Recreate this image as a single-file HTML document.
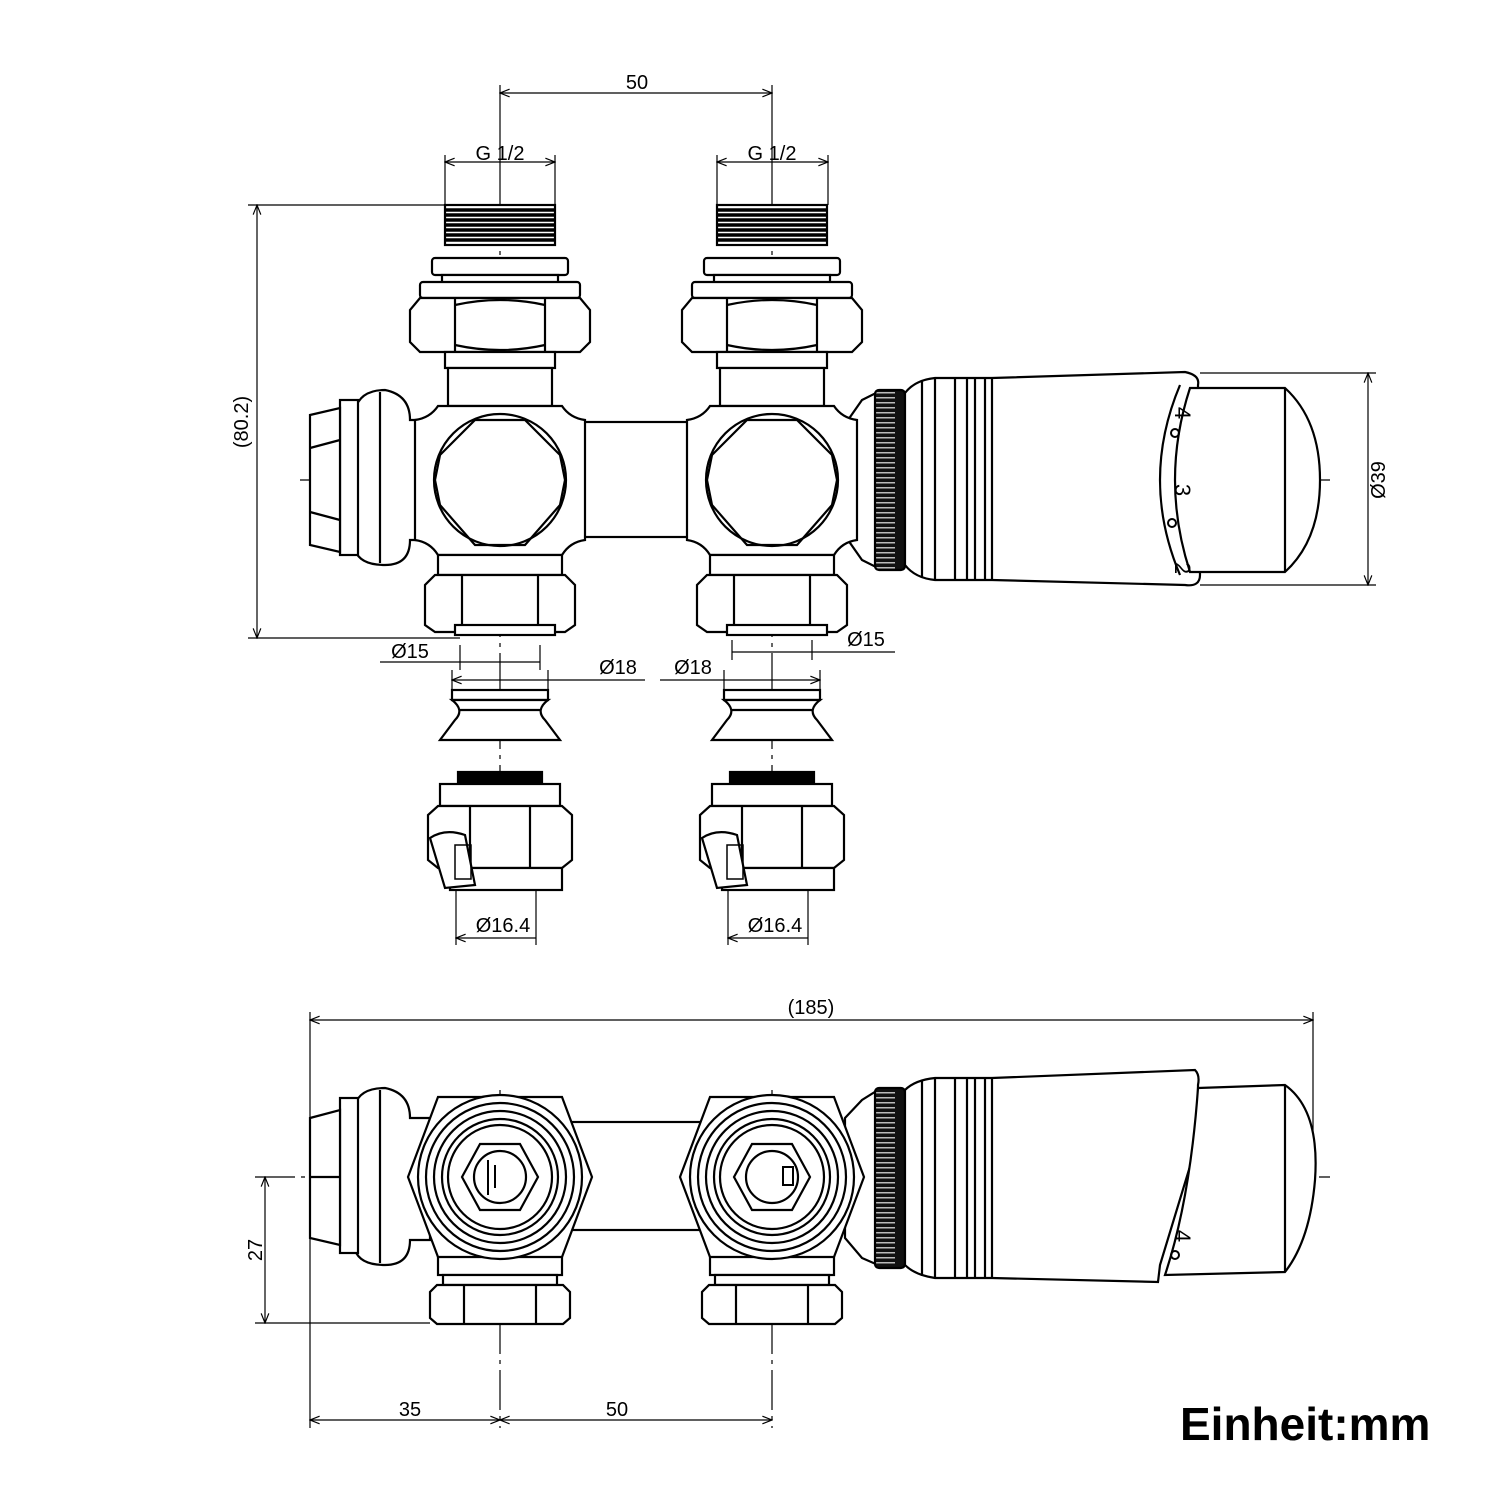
<!DOCTYPE html>
<html><head><meta charset="utf-8"><style>
html,body{margin:0;padding:0;background:#fff}
svg{display:block}
text{font-family:"Liberation Sans",sans-serif;fill:#000}
</style></head><body>
<svg width="1500" height="1500" viewBox="0 0 1500 1500" xmlns="http://www.w3.org/2000/svg">
<defs>
<pattern id="kn" width="30" height="5" patternUnits="userSpaceOnUse"><rect width="30" height="5" fill="#111"/><rect x="5" y="2" width="20" height="1.5" fill="#bbb"/></pattern>
<marker id="a" viewBox="0 0 10 10" refX="10" refY="5" markerWidth="10" markerHeight="8" orient="auto-start-reverse"><path d="M0,1 L10,5 L0,9" fill="none" stroke="#000" stroke-width="1.2"/></marker>
<g id="vtop" fill="#fff" stroke="#000" stroke-width="2.2">
  <rect x="-55" y="205" width="110" height="40"/>
  <g stroke-width="3.5"><line x1="-54" y1="210" x2="54" y2="210"/><line x1="-54" y1="215" x2="54" y2="215"/><line x1="-54" y1="220" x2="54" y2="220"/><line x1="-54" y1="225" x2="54" y2="225"/><line x1="-54" y1="230" x2="54" y2="230"/><line x1="-54" y1="235" x2="54" y2="235"/><line x1="-54" y1="240" x2="54" y2="240"/></g>
  <rect x="-68" y="258" width="136" height="17" rx="3"/>
  <rect x="-58" y="275" width="116" height="8"/>
  <rect x="-80" y="282" width="160" height="16" rx="3"/>
  <path d="M-80,298 L80,298 L90,310 L90,342 L80,352 L-80,352 L-90,342 L-90,310 Z"/>
  <line x1="-45" y1="298" x2="-45" y2="352"/><line x1="45" y1="298" x2="45" y2="352"/>
  <path d="M-45,305 Q0,295 45,305 M-45,345 Q0,355 45,345" fill="none"/>
  <rect x="-55" y="352" width="110" height="16"/>
  <rect x="-52" y="368" width="104" height="38"/>
  <path d="M-62,406 L62,406 Q70,418 85,420 L85,540 Q70,542 62,555 L-62,555 Q-70,542 -85,540 L-85,420 Q-70,418 -62,406 Z"/>
  <circle cx="0" cy="480" r="66"/>
  <path d="M-25,420 L25,420 L60,455 L65,480 L60,505 L25,545 L-25,545 L-60,505 L-65,480 L-60,455 Z" fill="none"/>
  <rect x="-62" y="555" width="124" height="20"/>
  <path d="M-65,575 L65,575 L75,585 L75,625 L65,632 L-65,632 L-75,625 L-75,585 Z"/>
  <line x1="-38" y1="575" x2="-38" y2="632"/><line x1="38" y1="575" x2="38" y2="632"/>
  <rect x="-45" y="625" width="100" height="10"/>
</g>
<g id="olive" fill="#fff" stroke="#000" stroke-width="2.2">
  <rect x="-48" y="690" width="96" height="10"/>
  <path d="M-48,700 Q-35,710 -45,720 L-60,740 L60,740 L45,720 Q35,710 48,700 Z"/>
  <line x1="-40" y1="710" x2="40" y2="710"/>
</g>
<g id="cnut" fill="#fff" stroke="#000" stroke-width="2.2">
  <rect x="-42" y="772" width="84" height="12" fill="#000"/>
  <rect x="-60" y="784" width="120" height="22"/>
  <path d="M-62,806 L62,806 L72,815 L72,860 L62,868 L-62,868 L-72,860 L-72,815 Z"/>
  <line x1="-30" y1="806" x2="-30" y2="868"/><line x1="30" y1="806" x2="30" y2="868"/>
  <rect x="-50" y="868" width="112" height="22"/>
  <path d="M-70,838 Q-55,828 -35,835 L-25,885 L-55,888 Z"/>
  <rect x="-45" y="845" width="16" height="34" fill="none" stroke-width="1.5"/>
</g>
<g id="vbot" fill="#fff" stroke="#000" stroke-width="2.2">
  <rect x="-62" y="1255" width="124" height="20"/>
  <rect x="-57" y="1275" width="114" height="10"/>
  <path d="M-63,1285 L63,1285 L70,1292 L70,1318 L63,1324 L-63,1324 L-70,1318 L-70,1292 Z"/>
  <line x1="-36" y1="1285" x2="-36" y2="1324"/><line x1="36" y1="1285" x2="36" y2="1324"/>
  <path d="M-62,1097 L62,1097 L92,1177 L62,1257 L-62,1257 L-92,1177 Z"/>
  <circle cx="0" cy="1177" r="82"/><circle cx="0" cy="1177" r="74" fill="none"/><circle cx="0" cy="1177" r="66" fill="none"/><circle cx="0" cy="1177" r="58" fill="none"/><circle cx="0" cy="1177" r="52" fill="none"/>
  <path d="M-20,1144 L20,1144 L38,1177 L20,1210 L-20,1210 L-38,1177 Z"/>
  <circle cx="0" cy="1177" r="26"/>
</g>
</defs>

<g stroke="#000" stroke-width="1.2" fill="none">
  <line x1="500" y1="85" x2="500" y2="205" />
  <line x1="772" y1="85" x2="772" y2="205" />
  <line x1="500" y1="205" x2="500" y2="890" stroke-dasharray="40,6,4,6"/>
  <line x1="772" y1="205" x2="772" y2="890" stroke-dasharray="40,6,4,6"/>
  <line x1="300" y1="480" x2="1330" y2="480" stroke-dasharray="40,6,4,6"/>
  <line x1="500" y1="93" x2="772" y2="93" marker-start="url(#a)" marker-end="url(#a)"/>
  <line x1="445" y1="155" x2="445" y2="205"/><line x1="555" y1="155" x2="555" y2="205"/>
  <line x1="445" y1="162" x2="555" y2="162" marker-start="url(#a)" marker-end="url(#a)"/>
  <line x1="717" y1="155" x2="717" y2="205"/><line x1="828" y1="155" x2="828" y2="205"/>
  <line x1="717" y1="162" x2="828" y2="162" marker-start="url(#a)" marker-end="url(#a)"/>
  <line x1="248" y1="205" x2="445" y2="205"/><line x1="248" y1="638" x2="460" y2="638"/>
  <line x1="257" y1="205" x2="257" y2="638" marker-start="url(#a)" marker-end="url(#a)"/>
  <line x1="1200" y1="373" x2="1376" y2="373"/><line x1="1200" y1="585" x2="1376" y2="585"/>
  <line x1="1368" y1="373" x2="1368" y2="585" marker-start="url(#a)" marker-end="url(#a)"/>
  <line x1="380" y1="662" x2="540" y2="662" /><line x1="460" y1="645" x2="460" y2="670"/><line x1="540" y1="645" x2="540" y2="670"/>
  <line x1="732" y1="652" x2="895" y2="652" /><line x1="732" y1="640" x2="732" y2="660"/><line x1="812" y1="640" x2="812" y2="660"/>
  <line x1="452" y1="680" x2="645" y2="680" marker-start="url(#a)"/><line x1="452" y1="670" x2="452" y2="690"/><line x1="548" y1="670" x2="548" y2="690"/>
  <line x1="660" y1="680" x2="820" y2="680" marker-end="url(#a)"/><line x1="724" y1="670" x2="724" y2="690"/><line x1="820" y1="670" x2="820" y2="690"/>
  <line x1="456" y1="890" x2="456" y2="945"/><line x1="536" y1="890" x2="536" y2="945"/>
  <line x1="456" y1="938" x2="536" y2="938" marker-start="url(#a)"/>
  <line x1="728" y1="890" x2="728" y2="945"/><line x1="808" y1="890" x2="808" y2="945"/>
  <line x1="728" y1="938" x2="808" y2="938" marker-start="url(#a)"/>
  <line x1="310" y1="1012" x2="310" y2="1428"/><line x1="1313" y1="1012" x2="1313" y2="1180"/>
  <line x1="310" y1="1020" x2="1313" y2="1020" marker-start="url(#a)" marker-end="url(#a)"/>
  <line x1="255" y1="1177" x2="1330" y2="1177" stroke-dasharray="40,6,4,6"/>
  <line x1="255" y1="1323" x2="430" y2="1323"/>
  <line x1="265" y1="1177" x2="265" y2="1323" marker-start="url(#a)" marker-end="url(#a)"/>
  <line x1="500" y1="1090" x2="500" y2="1428" stroke-dasharray="40,6,4,6"/>
  <line x1="772" y1="1090" x2="772" y2="1428" stroke-dasharray="40,6,4,6"/>
  <line x1="310" y1="1420" x2="500" y2="1420" marker-start="url(#a)" marker-end="url(#a)"/>
  <line x1="500" y1="1420" x2="772" y2="1420" marker-start="url(#a)" marker-end="url(#a)"/>
</g>

<g fill="#fff" stroke="#000" stroke-width="2.2">
  <rect x="560" y="422" width="150" height="115"/>
  <path d="M355,410 Q360,390 385,390 Q410,395 410,420 L420,420 L420,540 L410,540 Q410,565 385,565 Q360,565 355,550 Z"/>
  <line x1="380" y1="392" x2="380" y2="563"/>
  <rect x="340" y="400" width="18" height="155"/>
  <path d="M310,415 L340,408 L340,552 L310,545 Z"/>
  <line x1="310" y1="448" x2="340" y2="440"/><line x1="310" y1="512" x2="340" y2="520"/>
  <path d="M848,420 L862,400 L878,392 L878,568 L862,560 L848,540 Z"/>
</g>
<use href="#vtop" transform="translate(500,0)"/>
<use href="#vtop" transform="translate(772,0)"/>
<g fill="#fff" stroke="#000" stroke-width="2.2">
  <rect x="875" y="390" width="30" height="180" rx="4" fill="url(#kn)"/>
  <path d="M905,393 Q915,380 935,378 L992,378 L1185,372 Q1200,375 1198,385 L1200,575 Q1200,587 1185,585 L992,580 L935,580 Q915,578 905,565 Z"/>
  <line x1="922" y1="380" x2="922" y2="578"/><line x1="935" y1="378" x2="935" y2="580"/><line x1="955" y1="378" x2="955" y2="580"/><line x1="967" y1="378" x2="967" y2="580"/><line x1="975" y1="378" x2="975" y2="580"/><line x1="985" y1="378" x2="985" y2="580"/><line x1="992" y1="378" x2="992" y2="580"/>
  <path d="M1180,385 Q1140,480 1180,575" fill="none"/>
  <path d="M1190,388 L1285,388 Q1320,420 1320,480 Q1320,540 1285,572 L1190,572 Q1160,480 1190,388 Z"/>
  <line x1="1285" y1="388" x2="1285" y2="572"/>
</g>
<g stroke="#000" stroke-width="2" fill="none">
  <circle cx="1175" cy="433" r="4"/><circle cx="1172" cy="523" r="4"/>
</g>
<text x="1183" y="405" font-size="22" transform="rotate(90 1175 405)" text-anchor="middle">4</text>
<text x="1183" y="482" font-size="22" transform="rotate(90 1175 482)" text-anchor="middle">3</text>
<text x="1183" y="560" font-size="22" transform="rotate(90 1175 560)" text-anchor="middle">2</text>
<use href="#olive" transform="translate(500,0)"/>
<use href="#olive" transform="translate(772,0)"/>
<use href="#cnut" transform="translate(500,0)"/>
<use href="#cnut" transform="translate(772,0)"/>

<g fill="#fff" stroke="#000" stroke-width="2.2">
  <rect x="560" y="1122" width="150" height="108"/>
  <path d="M355,1105 Q360,1088 385,1088 Q410,1093 410,1118 L430,1118 L430,1240 L410,1240 Q410,1265 385,1265 Q360,1265 355,1250 Z"/>
  <line x1="380" y1="1090" x2="380" y2="1263"/>
  <rect x="340" y="1098" width="18" height="155"/>
  <path d="M310,1118 L340,1110 L340,1245 L310,1238 Z"/>
  <line x1="310" y1="1177" x2="340" y2="1177"/>
  <path d="M845,1118 L862,1100 L878,1090 L878,1265 L862,1258 L845,1238 Z"/>
</g>
<use href="#vbot" transform="translate(500,0)"/>
<use href="#vbot" transform="translate(772,0)"/>
<g stroke="#000" stroke-width="2"><line x1="488" y1="1160" x2="488" y2="1195"/><line x1="495" y1="1165" x2="495" y2="1188"/><rect x="783" y="1167" width="10" height="18" fill="#fff"/></g>
<g fill="#fff" stroke="#000" stroke-width="2.2">
  <rect x="875" y="1088" width="30" height="180" rx="4" fill="url(#kn)"/>
  <path d="M905,1090 Q915,1080 935,1078 L992,1078 L1195,1070 Q1200,1075 1198,1085 L1198,1140 Q1180,1200 1160,1265 L1158,1282 L992,1278 L935,1278 Q915,1275 905,1265 Z"/>
  <line x1="922" y1="1080" x2="922" y2="1276"/><line x1="935" y1="1078" x2="935" y2="1278"/><line x1="955" y1="1078" x2="955" y2="1278"/><line x1="967" y1="1078" x2="967" y2="1278"/><line x1="975" y1="1078" x2="975" y2="1278"/><line x1="985" y1="1078" x2="985" y2="1278"/><line x1="992" y1="1078" x2="992" y2="1278"/>
  <path d="M1198,1088 L1285,1085 Q1320,1110 1315,1180 Q1310,1240 1285,1272 L1165,1275 Q1190,1200 1198,1088 Z"/>
  <line x1="1285" y1="1085" x2="1285" y2="1272"/>
</g>
<circle cx="1175" cy="1255" r="4" fill="none" stroke="#000" stroke-width="2"/>
<text x="1183" y="1228" font-size="22" transform="rotate(90 1175 1228)" text-anchor="middle">4</text>

<g font-size="20" text-anchor="middle">
<text x="637" y="89">50</text>
<text x="500" y="160">G 1/2</text>
<text x="772" y="160">G 1/2</text>
<text x="248" y="422" transform="rotate(-90 248 422)">(80.2)</text>
<text x="1385" y="480" transform="rotate(-90 1385 480)">Ø39</text>
<text x="410" y="658">Ø15</text>
<text x="866" y="646">Ø15</text>
<text x="618" y="674">Ø18</text>
<text x="693" y="674">Ø18</text>
<text x="503" y="932">Ø16.4</text>
<text x="775" y="932">Ø16.4</text>
<text x="811" y="1014">(185)</text>
<text x="262" y="1250" transform="rotate(-90 262 1250)">27</text>
<text x="410" y="1416">35</text>
<text x="617" y="1416">50</text>
</g>
<text x="1180" y="1440" font-size="46" font-weight="bold">Einheit:mm</text>
</svg>
</body></html>
